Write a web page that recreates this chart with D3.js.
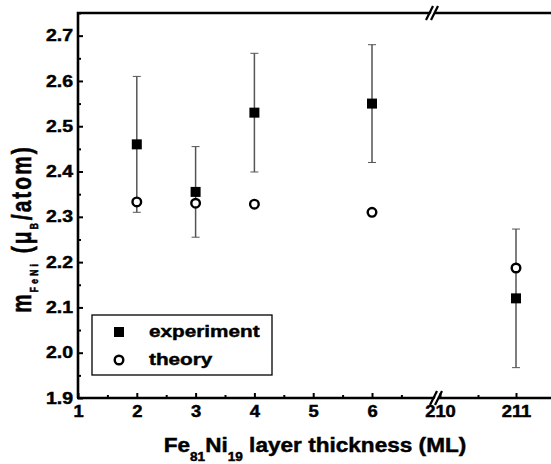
<!DOCTYPE html>
<html>
<head>
<meta charset="utf-8">
<script src="https://cdn.jsdelivr.net/npm/d3@7"></script>
<style>
  body { margin: 0; background: #fff; }
  text { font-family: "Liberation Sans", Arial, sans-serif; font-weight: bold; fill: #000; stroke: #000; stroke-width: 0.45; }
</style>
</head>
<body>
<div id="chart"></div>
<script>
// data
const thickness = [2, 3, 4, 6, 211];
const experiment = [2.46, 2.355, 2.53, 2.55, 2.12];
const expError = [0.15, 0.1, 0.131, 0.13, 0.153];
const theory = [2.333, 2.33, 2.328, 2.31, 2.187];
const leftTicks = [1, 2, 3, 4, 5, 6];
const leftMinor = [1.5, 2.5, 3.5, 4.5, 5.5, 6.5];
const rightTicks = [210, 211];
const rightMinor = [210.5];
const yTicks = [1.9, 2.0, 2.1, 2.2, 2.3, 2.4, 2.5, 2.6, 2.7];
const yMinor = [1.95, 2.05, 2.15, 2.25, 2.35, 2.45, 2.55, 2.65, 2.75];

const W = 551, H = 464;
const plotLeft = 78, plotTop = 13, plotBottom = 398;
const breakTop = 433, breakBottom = 437;

const svg = d3.select("#chart").append("svg")
  .attr("width", W).attr("height", H);

const y = d3.scaleLinear().domain([1.9, 2.75]).range([plotBottom, plotTop]);
const xL = d3.scaleLinear().domain([1, 6]).range([78, 372]);
const xR = d3.scaleLinear().domain([210, 211]).range([440, 516]);
const x = v => v > 100 ? xR(v) : xL(v);

// y axis
const yAxis = svg.append("g").attr("transform", `translate(${plotLeft},0)`)
  .call(d3.axisLeft(y).tickValues(yTicks).tickFormat(d3.format(".1f"))
    .tickSizeInner(-5).tickSizeOuter(0).tickPadding(4));
yAxis.select(".domain").remove();
yAxis.selectAll("line").attr("stroke-width", 2);
yAxis.selectAll("text").attr("font-size", 16).attr("transform", "scale(1.22,1)")
  .attr("font-family", null);
const yMin = svg.append("g").attr("transform", `translate(${plotLeft},0)`)
  .call(d3.axisLeft(y).tickValues(yMinor).tickFormat("").tickSizeInner(-3).tickSizeOuter(0));
yMin.select(".domain").remove();
yMin.selectAll("line").attr("stroke-width", 2);

// x axes (two segments)
[[xL, leftTicks, leftMinor], [xR, rightTicks, rightMinor]].forEach(([sc, maj, mn]) => {
  const g = svg.append("g").attr("transform", `translate(0,${plotBottom})`)
    .call(d3.axisBottom(sc).tickValues(maj).tickFormat(d3.format("d"))
      .tickSizeInner(-5).tickSizeOuter(0).tickPadding(8));
  g.select(".domain").remove();
  g.selectAll("line").attr("stroke-width", 2);
  g.selectAll(".tick text").attr("font-size", 16).attr("font-family", null)
    .attr("transform", "scale(1.15,1)");
  const m = svg.append("g").attr("transform", `translate(0,${plotBottom})`)
    .call(d3.axisBottom(sc).tickValues(mn).tickFormat("").tickSizeInner(-3).tickSizeOuter(0));
  m.select(".domain").remove();
  m.selectAll("line").attr("stroke-width", 2);
});

// frame lines
svg.append("path")
  .attr("d", `M${plotLeft},${plotBottom} V${plotTop} H${W}`)
  .attr("fill", "none").attr("stroke", "#000").attr("stroke-width", 2.6);
svg.append("line")
  .attr("x1", plotLeft - 1).attr("x2", W).attr("y1", plotBottom).attr("y2", plotBottom)
  .attr("stroke", "#000").attr("stroke-width", 2.6);

// axis break marks
function drawBreak(cx, cy) {
  const g = svg.append("g");
  g.append("polygon")
    .attr("points", `${cx - 4},${cy + 4} ${cx},${cy - 4} ${cx + 3},${cy - 4} ${cx - 1},${cy + 4}`)
    .attr("fill", "#fff");
  [-3, 2].forEach(o => {
    g.append("line")
      .attr("x1", cx + o - 4).attr("y1", cy + 7)
      .attr("x2", cx + o + 3).attr("y2", cy - 7)
      .attr("stroke", "#000").attr("stroke-width", 2.2);
  });
}
drawBreak(breakTop, plotTop);
drawBreak(breakBottom, plotBottom);

// error bars
const pts = thickness.map((t, i) => ({ t, e: experiment[i], err: expError[i], th: theory[i] }));
const eb = svg.append("g").attr("stroke", "#555");
pts.forEach(d => {
  const cx = x(d.t);
  eb.append("line").attr("x1", cx).attr("x2", cx)
    .attr("y1", y(d.e - d.err)).attr("y2", y(d.e + d.err)).attr("stroke-width", 1.5);
  [d.e - d.err, d.e + d.err].forEach(v => {
    eb.append("line").attr("x1", cx - 4).attr("x2", cx + 4)
      .attr("y1", y(v)).attr("y2", y(v)).attr("stroke-width", 1);
  });
});

// experiment squares
svg.append("g").selectAll("rect").data(pts).join("rect")
  .attr("x", d => x(d.t) - 5).attr("y", d => y(d.e) - 5)
  .attr("width", 10).attr("height", 10).attr("fill", "#000");

// theory circles
svg.append("g").selectAll("circle").data(pts).join("circle")
  .attr("cx", d => x(d.t)).attr("cy", d => y(d.th)).attr("r", 4.3)
  .attr("fill", "#fff").attr("stroke", "#000").attr("stroke-width", 2.4);

// legend
const lg = svg.append("g");
lg.append("rect").attr("x", 92).attr("y", 315).attr("width", 180).attr("height", 60)
  .attr("fill", "#fff").attr("stroke", "#000").attr("stroke-width", 1.3);
lg.append("rect").attr("x", 114).attr("y", 327).attr("width", 10).attr("height", 10).attr("fill", "#000");
lg.append("circle").attr("cx", 119).attr("cy", 360).attr("r", 4.3)
  .attr("fill", "#fff").attr("stroke", "#000").attr("stroke-width", 2.4);
lg.append("text").attr("transform", "translate(149,337) scale(1.22,1)").attr("font-size", 17).text("experiment");
lg.append("text").attr("transform", "translate(149,365) scale(1.22,1)").attr("font-size", 17).text("theory");

// x label
const xl = svg.append("text").attr("transform", "translate(315,452) scale(1.13,1)")
  .attr("text-anchor", "middle").attr("font-size", 20);
xl.append("tspan").text("Fe");
xl.append("tspan").attr("font-size", 12).attr("dy", 9).text("81");
xl.append("tspan").attr("dy", -9).text("Ni");
xl.append("tspan").attr("font-size", 12).attr("dy", 9).text("19");
xl.append("tspan").attr("dy", -9).text(" layer thickness (ML)");

// y label
const yl = svg.append("text").attr("transform", "translate(31,229) rotate(-90) scale(1,1.3)")
  .attr("text-anchor", "middle").attr("font-size", 21).attr("letter-spacing", 2);
yl.append("tspan").text("m");
yl.append("tspan").attr("font-size", 8.5).attr("letter-spacing", 3.2).attr("dy", 5.5).text("FeNi");
yl.append("tspan").attr("dy", -5.5).text(" (\u03bc");
yl.append("tspan").attr("font-size", 8.5).attr("letter-spacing", 3).attr("dy", 5.5).text("B");
yl.append("tspan").attr("dy", -5.5).text("/atom)");
</script>
</body>
</html>
